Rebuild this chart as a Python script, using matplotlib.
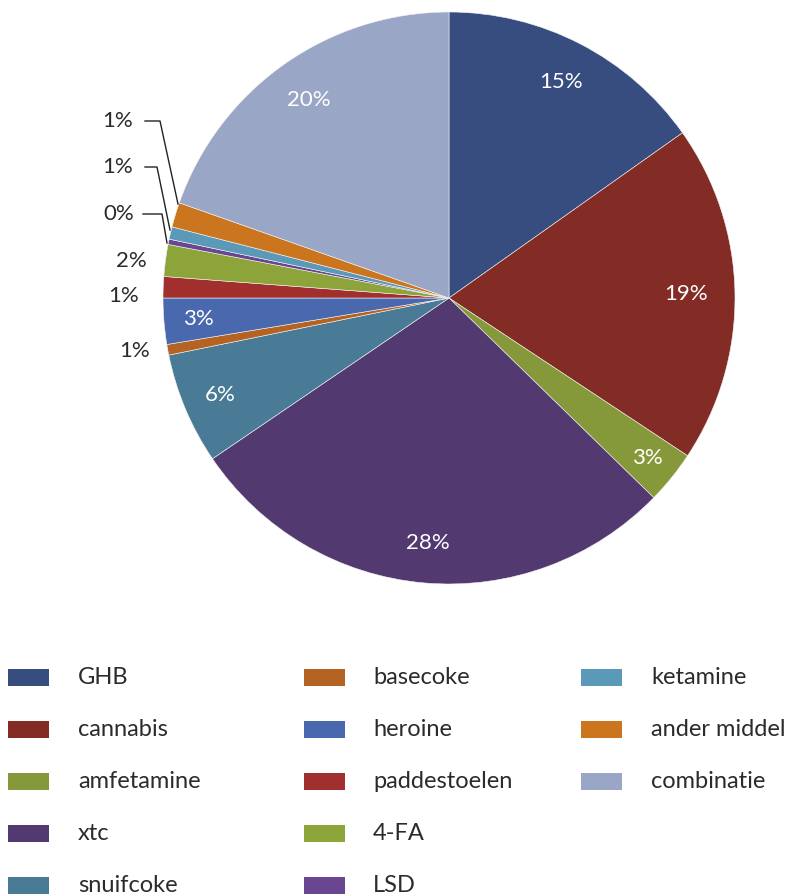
import numpy as np
import matplotlib
matplotlib.use("Agg")
import matplotlib.pyplot as plt
import matplotlib.patches as mpatches

plt.rcParams["font.family"] = ["Lato", "DejaVu Sans"]

# ── data ────────────────────────────────────────────────────────────────────
categories = ["GHB", "cannabis", "amfetamine", "xtc", "snuifcoke", "basecoke",
              "heroine", "paddestoelen", "4-FA", "LSD", "ketamine",
              "ander middel", "combinatie"]
shares = [15.2, 19.1, 3.0, 28.2, 6.3, 0.6, 2.6, 1.2, 1.8, 0.3, 0.7, 1.4, 19.6]
colors = ["#374D80", "#832B25", "#86993A", "#523A70", "#4A7B96", "#B56323",
          "#4A68AE", "#A02F2E", "#8DA43A", "#6A4690", "#5A9AB8", "#CB751F",
          "#9AA6C6"]

TEXT = "#2b2b2b"
W, H = 796, 896
CX, CY, R = 449, 298, 286  # pie centre / radius in pixels

fig = plt.figure(figsize=(W / 100, H / 100), dpi=100)
half = 300
ax = fig.add_axes([(CX - half) / W, (H - CY - half) / H, 2 * half / W, 2 * half / H])

wedges, _ = ax.pie(shares, colors=colors, startangle=90, counterclock=False,
                   radius=1.0, wedgeprops=dict(edgecolor="#f4f4f4", linewidth=0.4))
lim = half / R
ax.set_xlim(-lim, lim)
ax.set_ylim(-lim, lim)
ax.set_aspect("equal")
ax.axis("off")

# ── percentage labels ───────────────────────────────────────────────────────
inside = {0: 0.85, 1: 0.83, 2: 0.89, 3: 0.86, 4: 0.87, 6: 0.88, 12: 0.85}
for i, w in enumerate(wedges):
    lbl = f"{shares[i]:.0f}%"
    mid = np.deg2rad((w.theta1 + w.theta2) / 2)
    if i in inside:
        d = inside[i]
        ax.text(d * np.cos(mid), d * np.sin(mid), lbl, ha="center", va="center",
                fontsize=16, color="white")

def px(x, y):
    return ((x - CX) / R, (CY - y) / R)

# small slices on the left: plain labels
for i, (x, y) in {8: (131, 261), 7: (124, 296), 5: (135, 351)}.items():
    ax.text(*px(x, y), f"{shares[i]:.0f}%", ha="center", va="center",
            fontsize=16, color=TEXT)

# small slices with leader lines
leaders = {11: ((118, 121), (145, 121), (160, 121), (178, 204)),
           10: ((118, 167), (145, 167), (157, 167), (170, 230)),
           9: ((119, 214), (143, 214), (162, 214), (167, 243))}
for i, (lp, a, b, c) in leaders.items():
    ax.text(*px(*lp), f"{shares[i]:.0f}%", ha="center", va="center",
            fontsize=16, color=TEXT)
    xs, ys = zip(px(*a), px(*b), px(*c))
    ax.plot(xs, ys, color="#222222", lw=1.0, clip_on=False)

# ── legend (3 columns, filled column by column) ─────────────────────────────
col_patch_x = [8, 304, 581]
col_text_x = [78, 373, 651]
row_y0, row_dy = 677, 52
for i, (name, c) in enumerate(zip(categories, colors)):
    col, row = divmod(i, 5)
    y = row_y0 + row * row_dy
    fig.patches.append(mpatches.Rectangle(
        (col_patch_x[col] / W, 1 - (y + 8.5) / H), 41 / W, 17 / H,
        transform=fig.transFigure, facecolor=c, edgecolor="none"))
    fig.text(col_text_x[col] / W, 1 - y / H, name, ha="left", va="center",
             fontsize=17, color=TEXT)

fig.savefig("out.png", dpi=100)
